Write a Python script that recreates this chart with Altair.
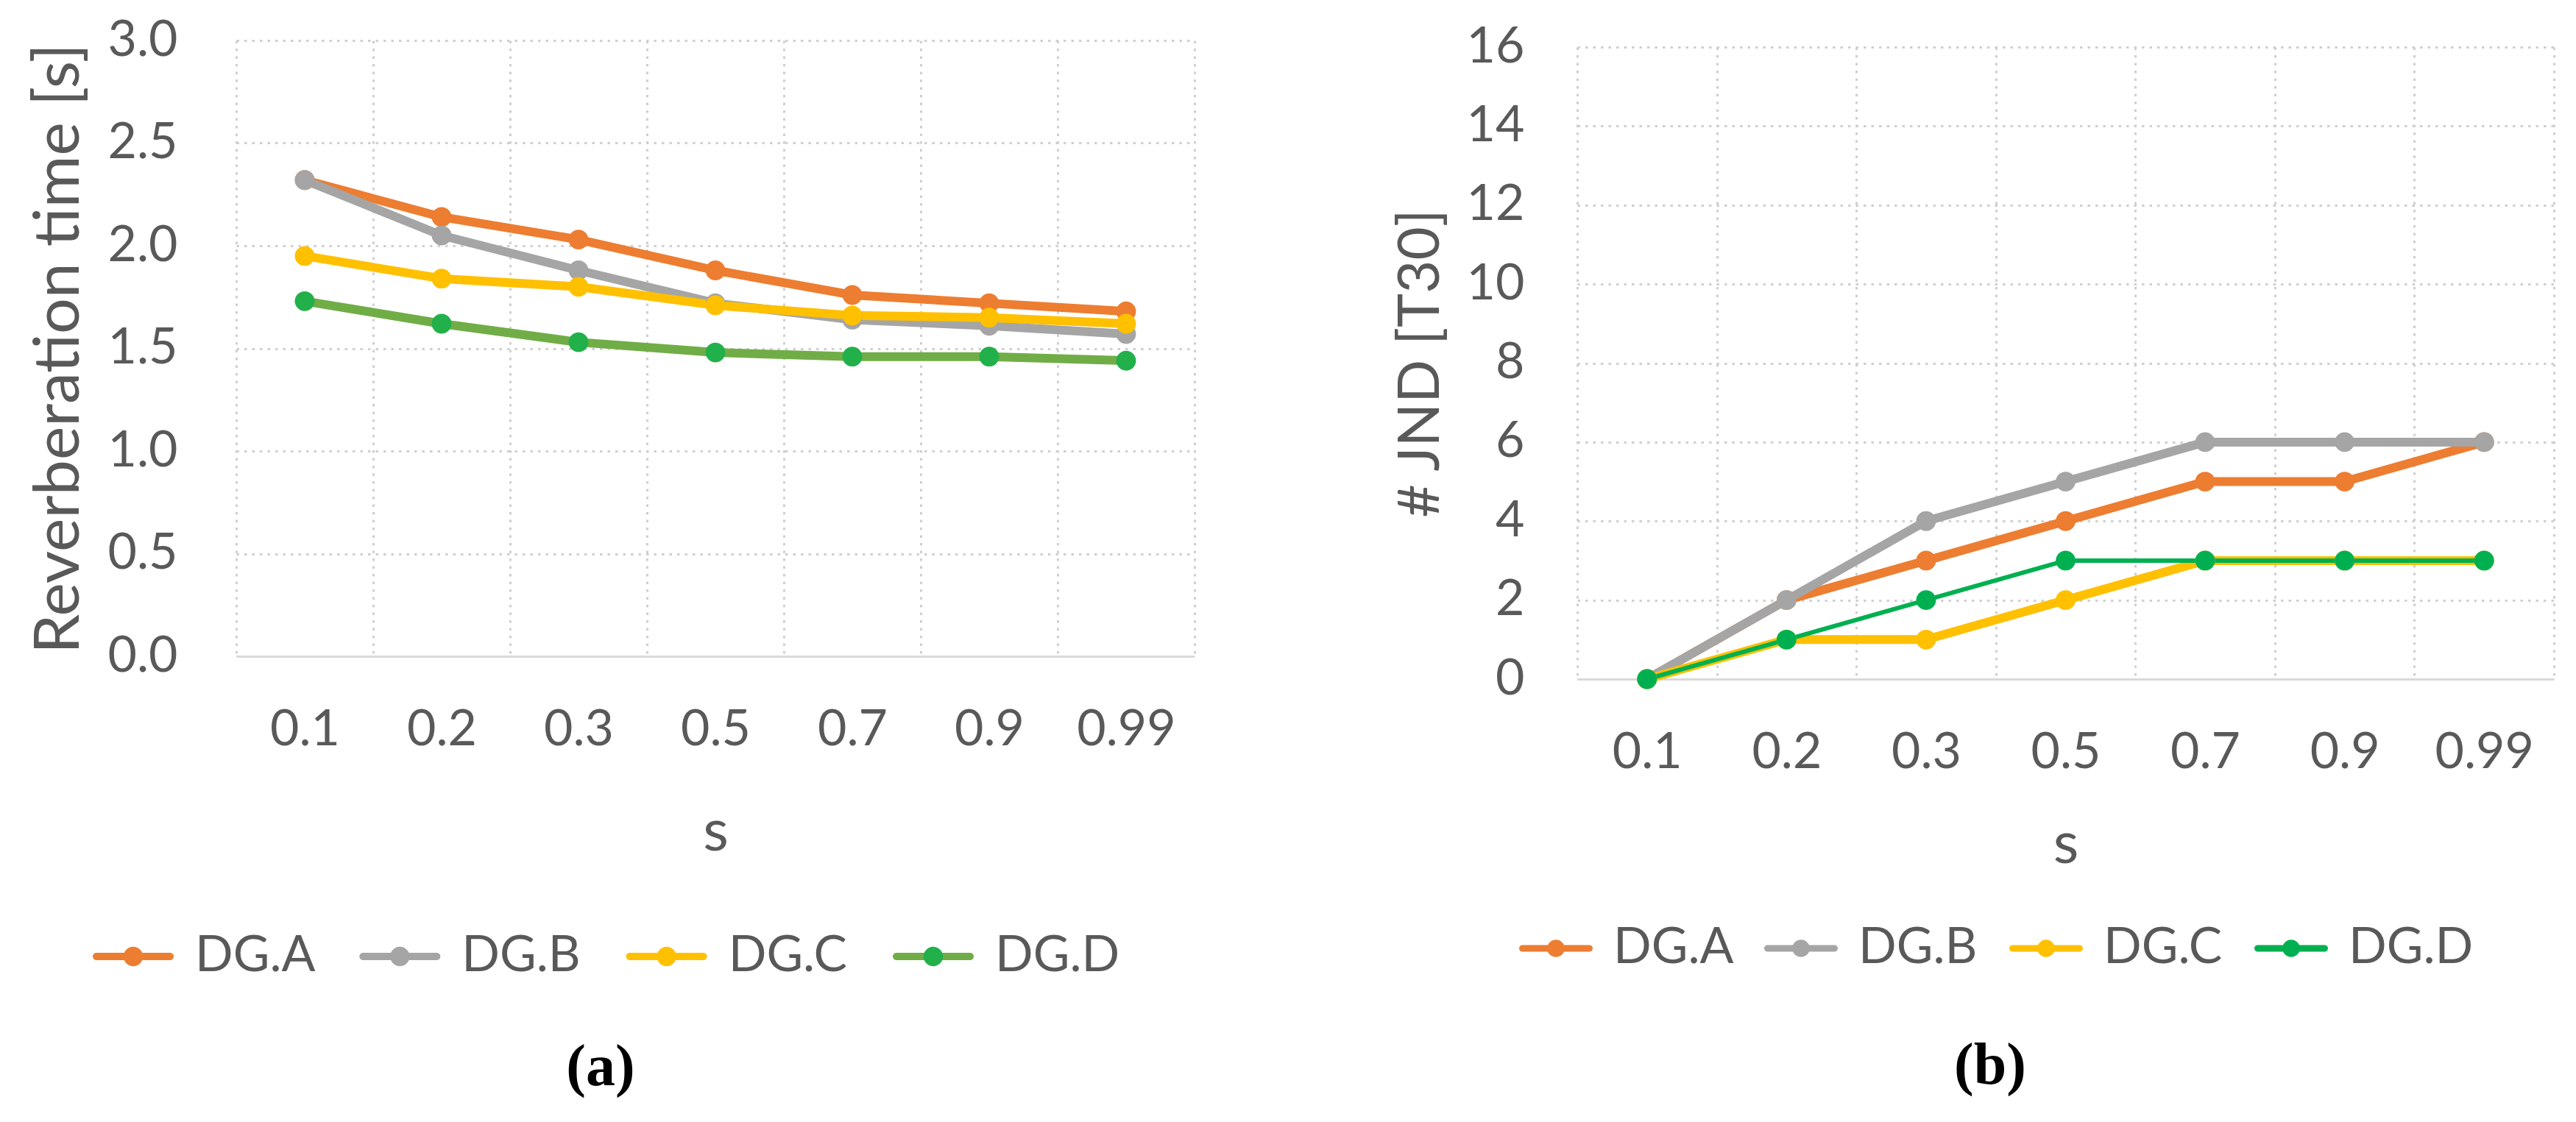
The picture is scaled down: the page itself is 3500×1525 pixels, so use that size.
import altair as alt
import pandas as pd

# ---------------- data ----------------
s_values = ["0.1", "0.2", "0.3", "0.5", "0.7", "0.9", "0.99"]
series = ["DG.A", "DG.B", "DG.C", "DG.D"]

rt_A = [2.32, 2.14, 2.03, 1.88, 1.76, 1.72, 1.68]
rt_B = [2.32, 2.05, 1.88, 1.72, 1.64, 1.61, 1.57]
rt_C = [1.95, 1.84, 1.80, 1.71, 1.66, 1.65, 1.62]
rt_D = [1.73, 1.62, 1.53, 1.48, 1.46, 1.46, 1.44]

jnd_A = [0, 2, 3, 4, 5, 5, 6]
jnd_B = [0, 2, 4, 5, 6, 6, 6]
jnd_C = [0, 1, 1, 2, 3, 3, 3]
jnd_D = [0, 1, 2, 3, 3, 3, 3]

rt_ticks = [0, 0.5, 1.0, 1.5, 2.0, 2.5, 3.0]
jnd_ticks = [0, 2, 4, 6, 8, 10, 12, 14, 16]


def make_df(cols):
    rows = []
    for name, vals in zip(series, cols):
        for s, v in zip(s_values, vals):
            rows.append({"s": s, "series": name, "key": name, "v": v})
    return pd.DataFrame(rows)


df_rt = make_df([rt_A, rt_B, rt_C, rt_D])
df_jnd = make_df([jnd_A, jnd_B, jnd_C, jnd_D])
df_keys = pd.DataFrame({"key": series})

TEXT = "#595959"
GRID = "#D0D0D0"
FONT = "Lato"


def panel(df, ytitle, ydom, yvals, yfmt, W, H, line_cols, pt_cols, d_width,
          lab_pad, ttl_size, ttl_pad, x_ttl_pad,
          leg_range, leg_y, leg_len, leg_thick, leg_dot, leg_dx,
          cap, cap_x, cap_y):
    x = alt.X(
        "s:N", sort=s_values,
        scale=alt.Scale(type="band", paddingInner=0, paddingOuter=0),
        axis=alt.Axis(
            title="s", labelAngle=0, tickBand="extent", grid=True,
            gridDash=[3.5, 7], gridColor=GRID, gridWidth=3,
            domain=True, domainColor="#D9D9D9", domainWidth=3,
            ticks=False, labelPadding=66, labelFont=FONT, labelFontSize=68,
            labelColor=TEXT, titleFont=FONT, titleFontSize=80,
            titleFontWeight="normal", titleColor=TEXT,
            titlePadding=x_ttl_pad,
        ),
    )
    y = alt.Y(
        "v:Q",
        scale=alt.Scale(domain=ydom, nice=False, zero=True),
        axis=alt.Axis(
            values=yvals, format=yfmt, grid=True, gridDash=[3.5, 7],
            gridColor=GRID, gridWidth=3, domain=False, ticks=False,
            labelPadding=lab_pad, labelFont=FONT, labelFontSize=68,
            labelColor=TEXT, title=ytitle, titleFont=FONT,
            titleFontSize=ttl_size, titleFontWeight="normal",
            titleColor=TEXT, titlePadding=ttl_pad,
        ),
    )
    base = alt.Chart(df)
    lines = base.mark_line(strokeJoin="round", strokeCap="round").encode(
        x=x, y=y,
        stroke=alt.Stroke("series:N",
                          scale=alt.Scale(domain=series, range=line_cols),
                          legend=None),
        strokeWidth=alt.condition(alt.datum.series == "DG.D",
                                  alt.value(d_width), alt.value(12)),
    )
    pts = base.mark_circle(opacity=1, size=720).encode(
        x=x, y=y,
        color=alt.Color("key:N", scale=alt.Scale(domain=series, range=pt_cols),
                        legend=None),
    )
    main = alt.layer(lines, pts)

    # legend row below the plot, built from the series list
    lx = alt.X("key:N", sort=series, axis=None,
               scale=alt.Scale(type="point", domain=series, range=leg_range,
                               padding=0))
    lk = alt.Chart(df_keys)
    leg_line = lk.mark_tick(orient="horizontal", size=leg_len,
                            thickness=leg_thick, cornerRadius=leg_thick / 2,
                            opacity=1).encode(
        x=lx, y=alt.value(leg_y),
        fill=alt.Fill("key:N", scale=alt.Scale(domain=series, range=line_cols),
                      legend=None),
    )
    leg_pt = lk.mark_circle(size=leg_dot, opacity=1).encode(
        x=lx, y=alt.value(leg_y),
        color=alt.Color("key:N", scale=alt.Scale(domain=series, range=pt_cols),
                        legend=None),
    )
    leg_txt = lk.mark_text(align="left", baseline="middle", dx=leg_dx,
                           font=FONT, fontSize=68, color=TEXT).encode(
        x=lx, y=alt.value(leg_y), text="key:N",
    )
    caption = alt.Chart(pd.DataFrame({"cap": [cap]})).mark_text(
        align="center", baseline="middle", font="Liberation Serif",
        fontSize=80, fontWeight="bold", color="black",
    ).encode(x=alt.value(cap_x), y=alt.value(cap_y), text="cap:N")

    legend = alt.layer(leg_line, leg_pt, leg_txt, caption)
    return (
        alt.layer(main, legend)
        .resolve_scale(x="independent")
        .properties(width=W, height=H)
    )


left = panel(
    df_rt, "Reverberation time [s]", [0, 3], rt_ticks, ".1f", 1302, 837,
    ["#ED7D31", "#A5A5A5", "#FFC000", "#70AD47"],
    ["#ED7D31", "#A5A5A5", "#FFC000", "#22B04A"],
    12, 80, 86, 22, 66,
    [-140, 947], 1245, 110, 10, 700, 84,
    "(a)", 495, 1396,
)

right_inner = panel(
    df_jnd, "# JND [T30]", [0, 16], jnd_ticks, "d", 1327, 859,
    ["#ED7D31", "#A5A5A5", "#FFC000", "#00B050"],
    ["#ED7D31", "#A5A5A5", "#FFC000", "#00B050"],
    6, 72, 78, 22, 52,
    [-29, 970], 1225, 100, 9, 560, 78,
    "(b)", 561, 1385,
)

# an empty 1px view above panel (b) lowers it slightly, as in the reference
spacer = (
    alt.Chart(pd.DataFrame({"t": [""]}))
    .mark_text()
    .encode(text="t:N")
    .properties(width=1, height=1)
)
right = alt.vconcat(spacer, right_inner, spacing=8, bounds="flush")

chart = (
    alt.hconcat(left, right, spacing=269)
    .resolve_scale(stroke="independent", color="independent",
                   fill="independent")
    .properties(padding={"left": 29, "top": 13, "right": 10, "bottom": 5},
                background="white")
    .configure_view(stroke=None)
)

chart.save("out.html", embed_options={"renderer": "svg", "actions": False})
